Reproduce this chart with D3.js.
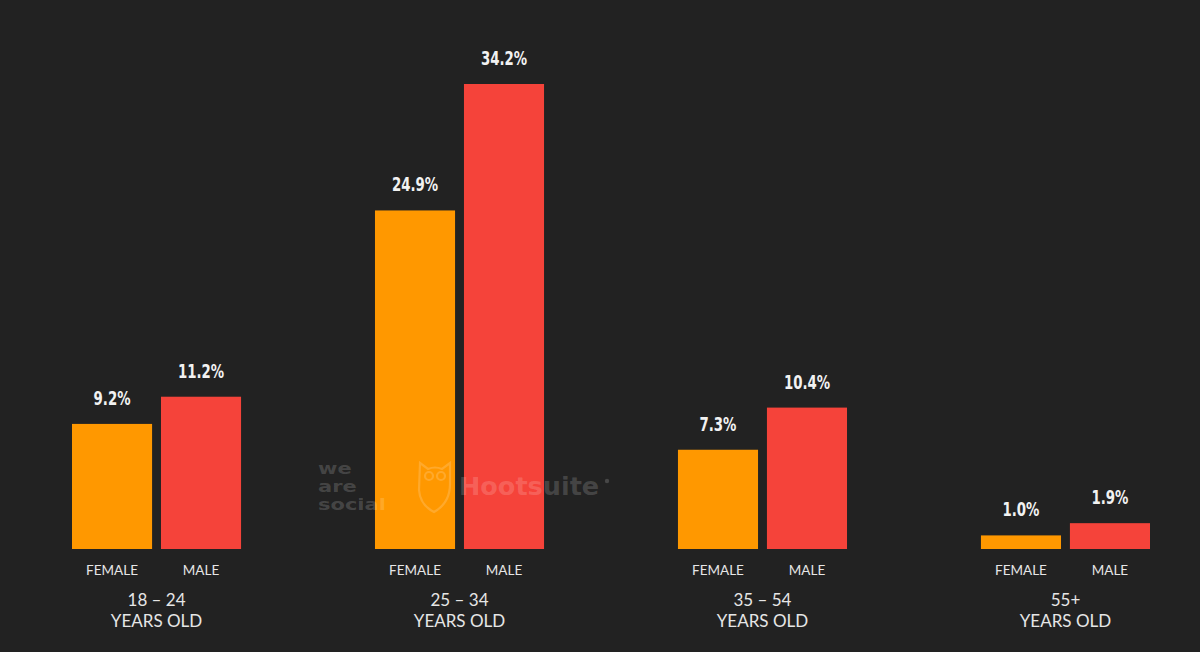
<!DOCTYPE html>
<html><head><meta charset="utf-8">
<script src="https://cdn.jsdelivr.net/npm/d3@7"></script>
<style>
html,body{margin:0;padding:0;background:#222222;}
svg{display:block;}
</style></head>
<body>
<script>
const groups = ["18 – 24", "25 – 34", "35 – 54", "55+"];
const genders = ["FEMALE", "MALE"];
const female = [9.2, 24.9, 7.3, 1.0];
const male = [11.2, 34.2, 10.4, 1.9];
const valueLabels = [["9.2%","11.2%"],["24.9%","34.2%"],["7.3%","10.4%"],["1.0%","1.9%"]];
const subLabel = "YEARS OLD";

const W = 1200, H = 652;
const colors = {FEMALE:"#FF9800", MALE:"#F5433A"};

const data = groups.map((g,i)=>({group:g, values:[
  {gender:"FEMALE", v:female[i], label:valueLabels[i][0]},
  {gender:"MALE", v:male[i], label:valueLabels[i][1]}
]}));

const svg = d3.select("body").append("svg").attr("width",W).attr("height",H);
svg.append("rect").attr("width",W).attr("height",H).attr("fill","#222222");

const x0 = d3.scaleBand().domain(groups).range([72,1150]).paddingInner(0.442).paddingOuter(0);
const x1 = d3.scaleBand().domain(genders).range([0, x0.bandwidth()]).paddingInner(0.1).paddingOuter(0);
const y = d3.scaleLinear().domain([0, 34.2]).range([549, 84]);

const g = svg.selectAll("g.grp").data(data).join("g").attr("class","grp")
  .attr("transform", d=>`translate(${x0(d.group)},0)`);

g.selectAll("rect.bar").data(d=>d.values).join("rect").attr("class","bar")
  .attr("x", d=>x1(d.gender)).attr("width", x1.bandwidth())
  .attr("y", d=>y(d.v)).attr("height", d=>y(0)-y(d.v))
  .attr("fill", d=>colors[d.gender]);

g.selectAll("text.val").data(d=>d.values).join("text").attr("class","val")
  .attr("transform", d=>`translate(${x1(d.gender)+x1.bandwidth()/2},${y(d.v)-19}) scale(0.76,1)`)
  .attr("text-anchor","middle")
  .attr("font-family","'DejaVu Sans Condensed','DejaVu Sans',sans-serif")
  .attr("font-weight","bold").attr("font-size",19.5).attr("fill","#f2f2f2")
  .text(d=>d.label);

g.selectAll("text.gen").data(d=>d.values).join("text").attr("class","gen")
  .attr("x", d=>x1(d.gender)+x1.bandwidth()/2)
  .attr("y", 575)
  .attr("text-anchor","middle")
  .attr("font-family","Lato, 'Noto Sans', sans-serif")
  .attr("font-size",13.5).attr("fill","#e6e6e6")
  .text(d=>d.gender);

g.append("text").attr("x", x0.bandwidth()/2).attr("y",606)
  .attr("text-anchor","middle").attr("font-family","Lato, 'Noto Sans', sans-serif")
  .attr("font-size",17).attr("fill","#e6e6e6").text(d=>d.group);
g.append("text").attr("x", x0.bandwidth()/2).attr("y",627)
  .attr("text-anchor","middle").attr("font-family","Lato, 'Noto Sans', sans-serif")
  .attr("font-size",17).attr("fill","#e6e6e6").text(subLabel);

// watermark
const wm = svg.append("g").attr("fill","#ffffff").attr("fill-opacity",0.17)
  .attr("font-family","'DejaVu Sans',sans-serif").attr("font-weight","bold");
["we","are","social"].forEach((t,i)=>{
  wm.append("text").attr("transform",`translate(318,${474+i*18}) scale(1.4,1)`).attr("font-size",15)
    .text(t);
});
wm.append("text").attr("x",459).attr("y",495).attr("font-size",25.5).text("Hootsuite");
wm.append("circle").attr("cx",607).attr("cy",481).attr("r",2.2);
// owl outline
const owl = svg.append("g").attr("fill","none").attr("stroke","#ffffff").attr("stroke-opacity",0.17).attr("stroke-width",2.2);
owl.append("path").attr("d","M420,463 L428,469 Q435,466 442,469 L450,463 L450,484 Q450,503 434,512 Q420,505 419,490 Z");
owl.append("circle").attr("cx",429).attr("cy",476).attr("r",4);
owl.append("circle").attr("cx",441).attr("cy",476).attr("r",4);
</script>
</body></html>
